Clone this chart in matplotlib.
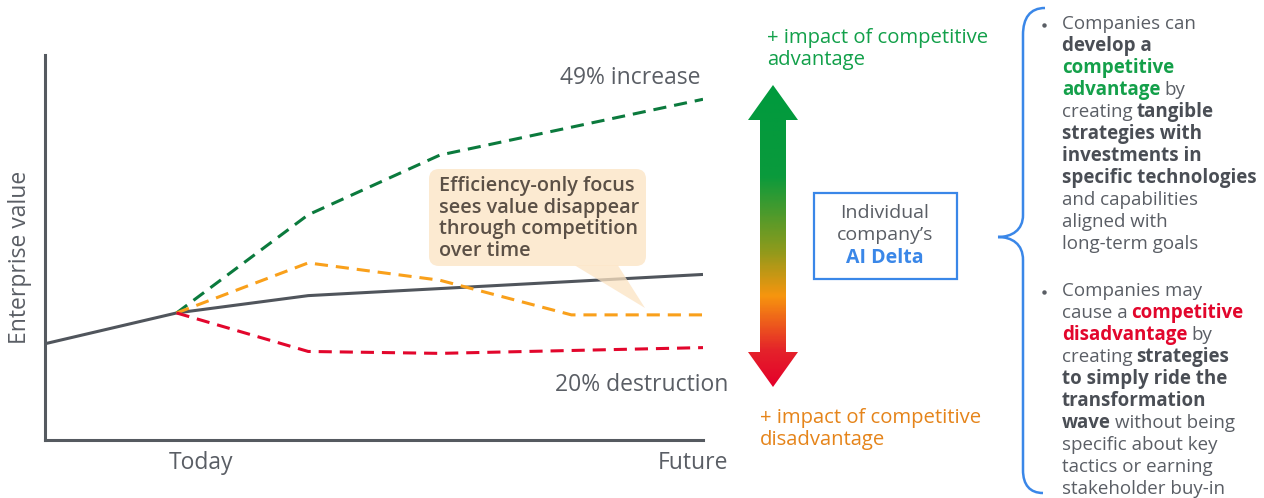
import numpy as np
import matplotlib
matplotlib.use("Agg")
import matplotlib.pyplot as plt
from matplotlib.patches import FancyBboxPatch, Polygon, PathPatch, Rectangle
from matplotlib.path import Path
from matplotlib.colors import LinearSegmentedColormap

plt.rcParams['font.family'] = ['Open Sans', 'DejaVu Sans']

W, H = 1264, 498

# chart data (time steps, enterprise value index)
t_base = [0, 1, 2, 5]
base_value = [25, 33, 37.5, 43]
t_green = [1, 2, 3, 5]
increase_value = [33, 58.5, 74, 88.5]
t_orange = [1, 2, 3, 4, 5]
efficiency_value = [33, 46, 41.5, 32.5, 32.5]
t_red = [1, 2, 3, 5]
destruction_value = [33, 23, 22.5, 24]

GRAY = '#50555c'
TXT = '#5a5e65'
GREEN = '#0b7a3d'
ORANGE = '#f9a01b'
RED = '#e2062c'
BLUE = '#3a87e8'

fig = plt.figure(figsize=(W / 100, H / 100), dpi=100)

# main chart, placed in pixel terms
ax = fig.add_axes([45 / W, 58 / H, 658 / W, 385 / H])
ax.plot(t_base, base_value, color=GRAY, lw=2.2, solid_capstyle='butt')
dash = (0, (4.3, 2.6))
ax.plot(t_green, increase_value, color=GREEN, lw=2.2, ls=dash)
ax.plot(t_orange, efficiency_value, color=ORANGE, lw=2.2, ls=dash)
ax.plot(t_red, destruction_value, color=RED, lw=2.2, ls=dash)
ax.set_xlim(0, 5)
ax.set_ylim(0, 100)
ax.set_xticks([])
ax.set_yticks([])
for s in ['top', 'right']:
    ax.spines[s].set_visible(False)
for s in ['left', 'bottom']:
    ax.spines[s].set_color('#555a60')
    ax.spines[s].set_linewidth(2.2)

# overlay in pixel coordinates
ov = fig.add_axes([0, 0, 1, 1])
ov.axis('off')

LFS = 16.5
ov.text(20, 257, 'Enterprise value', rotation=90, ha='center', va='center', fontsize=LFS, color=TXT)
ov.text(201, 463, 'Today', ha='center', va='center', fontsize=LFS, color=TXT)
ov.text(693, 463, 'Future', ha='center', va='center', fontsize=LFS, color=TXT)
ov.text(700, 78, '49% increase', ha='right', va='center', fontsize=LFS, color=TXT)
ov.text(728, 385, '20% destruction', ha='right', va='center', fontsize=LFS, color=TXT)

# callout
box = FancyBboxPatch((429, 169), 217, 97, boxstyle='round,pad=0,rounding_size=10',
                     fc='#fce3c2', ec='none', alpha=0.75)
ov.add_patch(box)
ov.add_patch(Polygon([(575, 265.5), (618, 265.5), (645, 308)], closed=True,
                     fc='#fce3c2', ec='none', alpha=0.75))
for i, line in enumerate(['Efficiency-only focus', 'sees value disappear',
                          'through competition', 'over time']):
    ov.text(439, 186 + i * 21.7, line, ha='left', va='center', fontsize=14.3,
            color='#5b5046', fontweight='semibold')

# gradient double arrow
arrow = Polygon([(773, 85), (798, 120), (786, 120), (786, 352), (798, 352), (773, 387),
                 (748, 352), (760, 352), (760, 120), (748, 120)], closed=True,
                fc='none', ec='none')
ov.add_patch(arrow)
cmap = LinearSegmentedColormap.from_list('delta', [(0, '#009a3e'), (0.3, '#0a9a3c'),
                                                   (0.55, '#8f9a1c'), (0.7, '#f7950e'),
                                                   (0.88, '#e4232a'), (1, '#e4002b')])
grad = np.linspace(0, 1, 300).reshape(-1, 1)
im = ov.imshow(grad, cmap=cmap, extent=(748, 798, 387, 85), origin='upper', aspect='auto')
im.set_clip_path(arrow)

AFS = 14.6
ov.text(767, 38, '+ impact of competitive', ha='left', va='center', fontsize=AFS, color='#12a04a')
ov.text(767, 60, 'advantage', ha='left', va='center', fontsize=AFS, color='#12a04a')
ov.text(760, 418, '+ impact of competitive', ha='left', va='center', fontsize=AFS, color='#e5841a')
ov.text(760, 440, 'disadvantage', ha='left', va='center', fontsize=AFS, color='#e5841a')

# AI Delta box
BFS = 14
ov.add_patch(Rectangle((814, 193), 143, 86, fc='white', ec=BLUE, lw=1.6))
ov.text(885, 213, 'Individual', ha='center', va='center', fontsize=BFS, color=TXT)
ov.text(885, 235, 'company\u2019s', ha='center', va='center', fontsize=BFS, color=TXT)
ov.text(885, 258, 'AI Delta', ha='center', va='center', fontsize=BFS, color=BLUE, fontweight='bold')

# brace
verts = [(1045, 8), (1030, 8), (1023, 18), (1023, 35),
         (1023, 215),
         (1023, 230), (1012, 237), (998, 237),
         (1012, 237), (1023, 244), (1023, 260),
         (1023, 470),
         (1023, 485), (1030, 493), (1043, 493)]
codes = [Path.MOVETO, Path.CURVE4, Path.CURVE4, Path.CURVE4,
         Path.LINETO,
         Path.CURVE4, Path.CURVE4, Path.CURVE4,
         Path.CURVE4, Path.CURVE4, Path.CURVE4,
         Path.LINETO,
         Path.CURVE4, Path.CURVE4, Path.CURVE4]
ov.add_patch(PathPatch(Path(verts, codes), fc='none', ec=BLUE, lw=1.8))

# bullet text, segments: (text, bold, color)
DARK = '#4a4e55'
bullet1 = [
    [('Companies can', 0, TXT)],
    [('develop a', 1, DARK)],
    [('competitive', 1, '#14a04a')],
    [('advantage', 1, '#14a04a'), ('by', 0, TXT)],
    [('creating', 0, TXT), ('tangible', 1, DARK)],
    [('strategies with', 1, DARK)],
    [('investments in', 1, DARK)],
    [('specific technologies', 1, DARK)],
    [('and capabilities', 0, TXT)],
    [('aligned with', 0, TXT)],
    [('long-term goals', 0, TXT)],
]
bullet2 = [
    [('Companies may', 0, TXT)],
    [('cause a', 0, TXT), ('competitive', 1, RED)],
    [('disadvantage', 1, RED), ('by', 0, TXT)],
    [('creating', 0, TXT), ('strategies', 1, DARK)],
    [('to simply ride the', 1, DARK)],
    [('transformation', 1, DARK)],
    [('wave', 1, DARK), ('without being', 0, TXT)],
    [('specific about key', 0, TXT)],
    [('tactics or earning', 0, TXT)],
    [('stakeholder buy-in', 0, TXT)],
]

ov.set_xlim(0, W)
ov.set_ylim(H, 0)

fig.canvas.draw()
renderer = fig.canvas.get_renderer()
FS = 13.5
probe = ov.text(0, 0, 'a a', fontsize=FS)
w1 = probe.get_window_extent(renderer).width
probe.set_text('aa')
space_w = 0.75 * (w1 - probe.get_window_extent(renderer).width)
probe.remove()


def draw_bullet(y0, lines):
    ov.plot([1044], [y0 + 1], 'o', ms=3.2, color=TXT, mec='none')
    for i, segs in enumerate(lines):
        x = 1062
        y = y0 + i * 22
        for txt, bold, col in segs:
            t = ov.text(x, y, txt, ha='left', va='center', fontsize=FS, color=col,
                        fontweight='bold' if bold else 'normal')
            x += t.get_window_extent(renderer).width + space_w


draw_bullet(24, bullet1)
draw_bullet(291, bullet2)
ov.set_xlim(0, W)
ov.set_ylim(H, 0)

fig.savefig('out.png', dpi=100)
